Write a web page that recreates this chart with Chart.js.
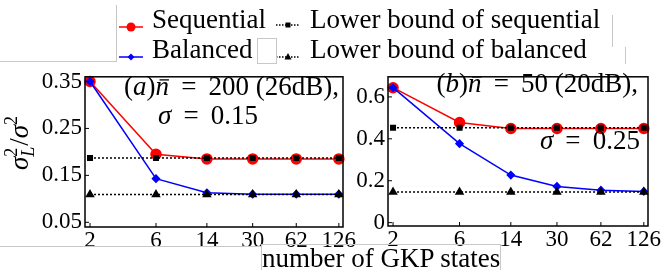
<!DOCTYPE html>
<html>
<head>
<meta charset="utf-8">
<script src="https://cdn.jsdelivr.net/npm/chart.js@4.4.0/dist/chart.umd.min.js"></script>
<style>
  body { margin: 0; background: #fff; }
  #wrap { position: relative; width: 663px; height: 270px; overflow: hidden; font-family: "Liberation Serif", "DejaVu Serif", serif; }
  canvas { position: absolute; }
  .lg { position: absolute; font-size: 27px; line-height: 30px; white-space: nowrap; color: #000; }
  .sw { position: absolute; }
  .gl { position: absolute; background: #c8c8c8; }
</style>
</head>
<body>
<div id="wrap">
  <canvas id="chartA" width="362" height="200" style="left:0;top:60px"></canvas>
  <canvas id="chartB" width="315" height="200" style="left:348px;top:60px"></canvas>
</div>
<script>
// data
var gkpStates = [2, 6, 14, 30, 62, 126];
var seriesNames = ['Sequential', 'Balanced', 'Lower bound of sequential', 'Lower bound of balanced'];

// (a) nbar = 200, sigma = 0.15
var seqA = [0.350, 0.195, 0.185, 0.185, 0.185, 0.185];
var balA = [0.350, 0.143, 0.113, 0.110, 0.110, 0.110];
var lbSeqA = [0.187, 0.187, 0.187, 0.187, 0.187, 0.187];
var lbBalA = [0.109, 0.109, 0.109, 0.109, 0.109, 0.109];
var yTicksA = [0.05, 0.15, 0.25, 0.35];

// (b) nbar = 50, sigma = 0.25
var seqB = [0.644, 0.478, 0.449, 0.449, 0.449, 0.449];
var balB = [0.644, 0.377, 0.227, 0.173, 0.155, 0.149];
var lbSeqB = [0.453, 0.453, 0.453, 0.453, 0.453, 0.453];
var lbBalB = [0.146, 0.146, 0.146, 0.146, 0.146, 0.146];
var yTicksB = [0, 0.2, 0.4, 0.6];

var FONT = '"Liberation Serif", "DejaVu Serif", serif';

function pts(ys) {
    return gkpStates.map(function (x, i) { return {x: x, y: ys[i]}; });
}

function makeSets(seq, bal, lbs, lbb) {
    return [
        {label: seriesNames[0], data: pts(seq), borderColor: '#ff0000', backgroundColor: '#ff0000',
            borderWidth: 1.5, pointRadius: 5, pointStyle: 'circle', order: 3},
        {label: seriesNames[1], data: pts(bal), borderColor: '#0000ff', backgroundColor: '#0000ff',
            borderWidth: 1.5, pointRadius: 3.5, pointStyle: 'rectRot', order: 2},
        {label: seriesNames[2], data: pts(lbs), borderColor: '#000', backgroundColor: '#000',
            borderWidth: 1.5, borderDash: [2, 2], pointRadius: 3.2, pointStyle: 'rect', order: 1},
        {label: seriesNames[3], data: pts(lbb), borderColor: '#000', backgroundColor: '#000',
            borderWidth: 1.5, borderDash: [2, 2], pointRadius: 4, pointStyle: 'triangle', order: 0}
    ];
}

// draw a list of [text, italic, bar] runs
function drawRuns(ctx, runs, x, y, align, size) {
    var w = 0;
    runs.forEach(function (r) {
        ctx.font = (r[1] ? 'italic ' : '') + size + 'px ' + FONT;
        w += ctx.measureText(r[0]).width;
    });
    var cx = align === 'right' ? x - w : (align === 'center' ? x - w / 2 : x);
    ctx.textBaseline = 'middle';
    ctx.textAlign = 'left';
    ctx.fillStyle = '#000';
    ctx.strokeStyle = '#000';
    runs.forEach(function (r) {
        ctx.font = (r[1] ? 'italic ' : '') + size + 'px ' + FONT;
        var rw = ctx.measureText(r[0]).width;
        ctx.fillText(r[0], cx, y);
        if (r[2]) {
            ctx.lineWidth = 1.3;
            ctx.beginPath();
            ctx.moveTo(cx + rw * 0.3, y - size * 0.3);
            ctx.lineTo(cx + rw * 1.0, y - size * 0.3);
            ctx.stroke();
        }
        cx += rw;
    });
}

var boxPlugin = {
    id: 'box',
    afterDraw: function (chart) {
        var ctx = chart.ctx, a = chart.chartArea;
        ctx.save();
        ctx.strokeStyle = '#000';
        ctx.lineWidth = 1.5;
        ctx.strokeRect(a.left, a.top, a.right - a.left, a.bottom - a.top);
        ctx.lineWidth = 1;
        // inward ticks
        chart.scales.x.ticks.forEach(function (t) {
            var px = chart.scales.x.getPixelForValue(t.value);
            ctx.beginPath(); ctx.moveTo(px, a.bottom); ctx.lineTo(px, a.bottom - 4); ctx.stroke();
        });
        chart.scales.y.ticks.forEach(function (t) {
            var py = chart.scales.y.getPixelForValue(t.value);
            ctx.beginPath(); ctx.moveTo(a.left, py); ctx.lineTo(a.left + 4, py); ctx.stroke();
        });
        var notes = chart.options.plugins.notes || [];
        notes.forEach(function (n) { drawRuns(ctx, n.runs, n.x, n.y, n.align, n.size); });
        if (chart.options.plugins.ytitle) {
            var yt = chart.options.plugins.ytitle;
            ctx.translate(yt.x, yt.y);
            ctx.rotate(-Math.PI / 2);
            ctx.textBaseline = 'alphabetic';
            ctx.fillStyle = '#000';
            var big = 'italic 27px ' + FONT, small = '18px ' + FONT, smallI = 'italic 18px ' + FONT;
            ctx.font = big; var ws = ctx.measureText('σ').width;
            ctx.font = small; var w2 = ctx.measureText('2').width;
            ctx.font = '27px ' + FONT; var wsl = ctx.measureText('/').width;
            var total = ws + w2 + 2 + wsl + ws + w2;
            var cx = -total / 2;
            ctx.font = big; ctx.fillText('σ', cx, 0); cx += ws;
            ctx.font = small; ctx.fillText('2', cx, -11);
            ctx.font = smallI; ctx.fillText('L', cx, 6); cx += w2 + 2;
            ctx.font = '27px ' + FONT; ctx.fillText('/', cx, 0); cx += wsl;
            ctx.font = big; ctx.fillText('σ', cx, 0); cx += ws;
            ctx.font = small; ctx.fillText('2', cx, -11);
        }
        ctx.restore();
    }
};

function makeChart(id, sets, yMin, yMax, yTicks, fmt, yWidth, pad, xHeight, notes, ytitle) {
    return new Chart(document.getElementById(id).getContext('2d'), {
        type: 'line',
        data: {datasets: sets},
        options: {
            responsive: false,
            animation: false,
            devicePixelRatio: 1,
            layout: {padding: pad},
            elements: {line: {tension: 0}},
            datasets: {line: {clip: false}},
            plugins: {legend: {display: false}, tooltip: {enabled: false}, notes: notes, ytitle: ytitle},
            scales: {
                x: {
                    type: 'logarithmic', min: 1.84, max: 135,
                    afterBuildTicks: function (s) { s.ticks = gkpStates.map(function (v) { return {value: v}; }); },
                    afterFit: function (s) { s.height = xHeight; },
                    ticks: {callback: function (v) { return String(v); }, autoSkip: false, maxRotation: 0,
                        color: '#000', padding: 0, font: {family: FONT, size: 23}},
                    grid: {display: false, drawTicks: false},
                    border: {display: false}
                },
                y: {
                    min: yMin, max: yMax,
                    afterBuildTicks: function (s) { s.ticks = yTicks.map(function (v) { return {value: v}; }); },
                    afterFit: function (s) { s.width = yWidth; },
                    ticks: {callback: fmt, color: '#000', padding: 3, font: {family: FONT, size: 23}},
                    grid: {display: false, drawTicks: false},
                    border: {display: false}
                }
            }
        },
        plugins: [boxPlugin]
    });
}

var SP = '\u2009';
makeChart('chartA', makeSets(seqA, balA, lbSeqA, lbBalA), 0.04, 0.36, yTicksA,
    function (v) { return v.toFixed(2); }, 85, {left: 0, top: 7, right: 19, bottom: 0}, 33,
    [
        {runs: [['(', false], ['a', true], [')', false], ['n', true, true], [' ' + SP + '=' + SP + ' 200 (26dB),', false]], x: 339, y: 28, align: 'right', size: 27},
        {runs: [['σ', true], [' ' + SP + '=' + SP + ' 0.15', false]], x: 158, y: 57, align: 'left', size: 27}
    ],
    {x: 28, y: 83});

makeChart('chartB', makeSets(seqB, balB, lbSeqB, lbBalB), -0.016, 0.696, yTicksB,
    function (v) { return v === 0 ? '0' : String(v); }, 40, {left: 0, top: 5, right: 15, bottom: 0}, 34,
    [
        {runs: [['(', false], ['b', true], [')', false], ['n', true, true], [' ' + SP + '=' + SP + ' 50 (20dB),', false]], x: 290, y: 25, align: 'right', size: 27},
        {runs: [['σ', true], [' ' + SP + '=' + SP + ' 0.25', false]], x: 292, y: 82, align: 'right', size: 27}
    ],
    null);

// legend and shared x label as html
var wrap = document.getElementById('wrap');
function add(html) { wrap.insertAdjacentHTML('beforeend', html); }
function swatch(x, y, color, dashed, marker) {
    var m = '';
    if (marker === 'circle') m = '<circle cx="12" cy="6" r="4.5" fill="' + color + '"/>';
    if (marker === 'diamond') m = '<polygon points="12,2.5 15.5,6 12,9.5 8.5,6" fill="' + color + '"/>';
    if (marker === 'square') m = '<rect x="9.5" y="3.5" width="5" height="5" fill="' + color + '"/>';
    if (marker === 'triangle') m = '<polygon points="12,2 15.5,8.5 8.5,8.5" fill="' + color + '"/>';
    add('<svg class="sw" width="24" height="12" style="left:' + x + 'px;top:' + (y - 6) + 'px">' +
        '<line x1="0" y1="6" x2="24" y2="6" stroke="' + color + '" stroke-width="1.5"' +
        (dashed ? ' stroke-dasharray="1.5,1.5"' : '') + '/>' + m + '</svg>');
}
swatch(119, 27, '#ff0000', false, 'circle');
swatch(119, 57, '#0000ff', false, 'diamond');
swatch(276, 25, '#000', true, 'square');
swatch(276, 57, '#000', true, 'triangle');
add('<div class="lg" style="left:152px;top:4px">' + seriesNames[0] + '</div>');
add('<div class="lg" style="left:152px;top:34px">' + seriesNames[1] + '</div>');
add('<div class="lg" style="left:310px;top:4px">' + seriesNames[2] + '</div>');
add('<div class="lg" style="left:310px;top:34px">' + seriesNames[3] + '</div>');
// faint frame lines seen round the legend and label
add('<div class="gl" style="left:116px;top:5px;width:1px;height:57px"></div>');
add('<div class="gl" style="left:0;top:61px;width:116px;height:1px"></div>');
add('<div class="gl" style="left:612px;top:15px;width:1px;height:32px"></div>');
add('<div class="gl" style="left:625px;top:47px;width:1px;height:17px"></div>');
add('<div style="position:absolute;left:257px;top:38px;width:18px;height:24px;border:1px solid #c8c8c8"></div>');
add('<div class="gl" style="left:0;top:246px;width:261px;height:1px"></div>');
add('<div class="lg" style="left:261px;top:244px;width:238px;height:26px;border:1px solid #c8c8c8;border-bottom:none;line-height:26px;text-align:center">number of GKP states</div>');
</script>
</body>
</html>
